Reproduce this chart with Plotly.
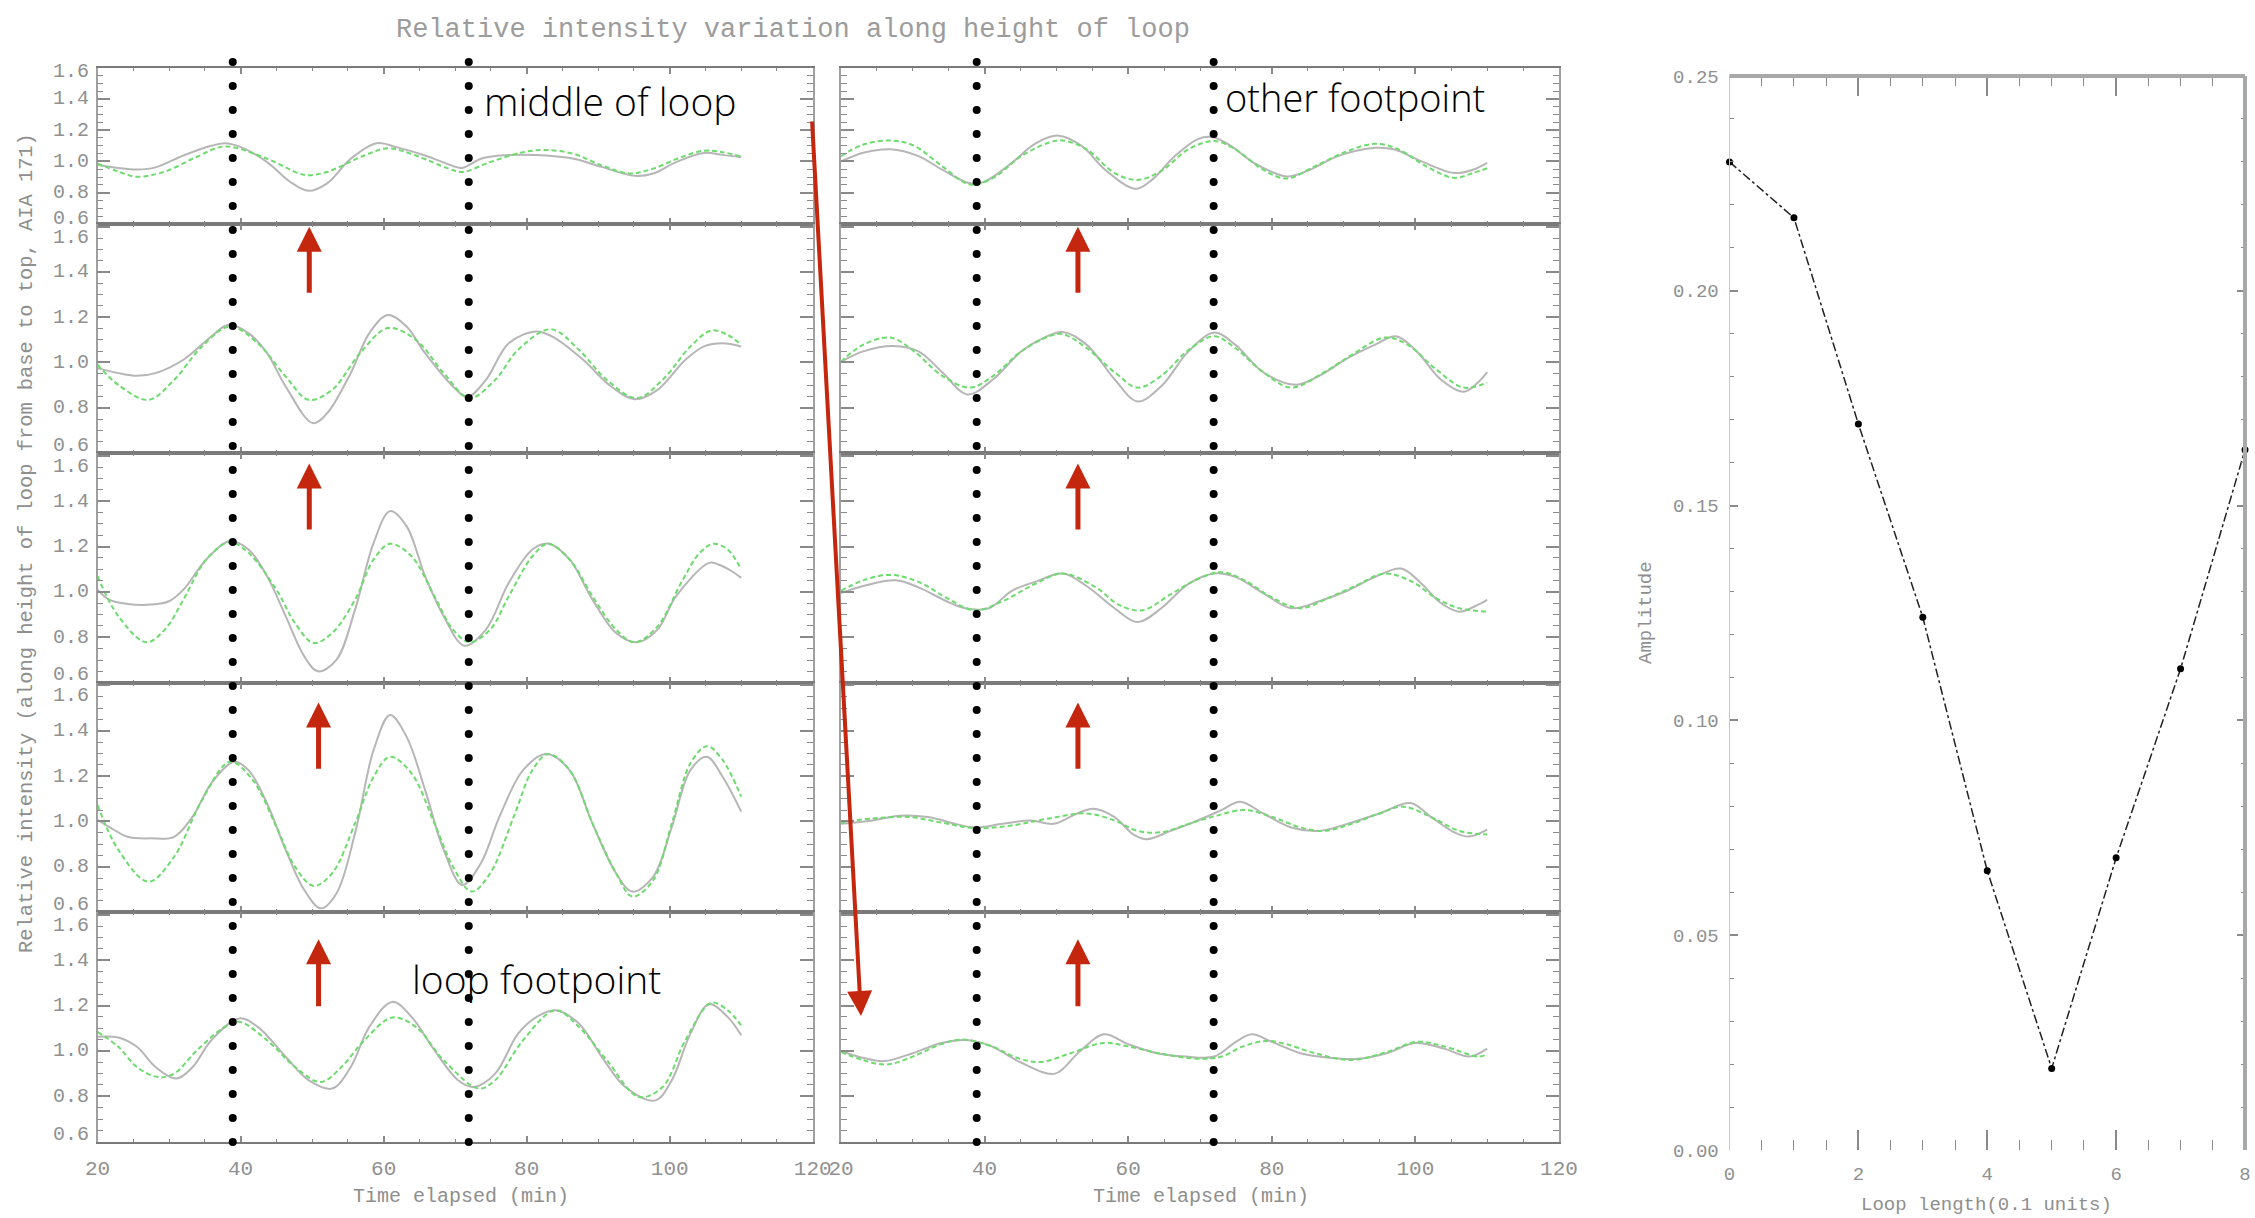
import numpy as np
import plotly.graph_objects as go

# ---------------------------------------------------------------------------
# Light curves, (time elapsed [min], relative intensity)
# Left column: middle of loop (top row) down to the loop footpoint (bottom row)
# ---------------------------------------------------------------------------
L1_gray = [(20.0, 0.979), (22.9, 0.958), (25.5, 0.948), (28.1, 0.962), (32.0, 1.038), (35.9, 1.100),
           (37.8, 1.117), (39.8, 1.096), (43.7, 0.996), (46.9, 0.870), (49.5, 0.812), (52.1, 0.860),
           (55.4, 1.017), (59.0, 1.117), (61.9, 1.090), (65.8, 1.038), (69.7, 0.971), (71.0, 0.958),
           (73.6, 1.017), (76.2, 1.038), (79.5, 1.042), (82.7, 1.038), (86.6, 1.017), (90.5, 0.965),
           (95.1, 0.908), (97.7, 0.923), (100.9, 0.996), (104.8, 1.054), (107.4, 1.042), (110.0, 1.027)]
L1_green = [(20.0, 0.985), (22.9, 0.935), (25.5, 0.902), (29.4, 0.935), (33.9, 1.030), (37.8, 1.096),
            (43.7, 1.017), (48.2, 0.923), (49.5, 0.912), (52.1, 0.933), (57.3, 1.038), (60.6, 1.084),
            (64.5, 1.038), (69.1, 0.954), (71.0, 0.933), (74.9, 0.996), (79.5, 1.059), (82.7, 1.073),
            (86.6, 1.048), (90.5, 0.975), (94.4, 0.923), (97.7, 0.954), (101.6, 1.027), (104.8, 1.069),
            (107.4, 1.059), (110.0, 1.031)]

L2_gray = [(20.0, 0.975), (22.9, 0.953), (25.5, 0.941), (28.1, 0.953), (32.0, 1.012), (35.9, 1.115),
           (38.2, 1.166), (41.1, 1.130), (43.7, 1.041), (46.3, 0.894), (50.1, 0.732), (52.1, 0.776),
           (55.4, 0.953), (58.0, 1.130), (60.6, 1.210), (63.2, 1.159), (65.8, 1.041), (69.7, 0.894),
           (71.7, 0.847), (74.3, 0.923), (77.5, 1.085), (81.4, 1.137), (84.0, 1.107), (87.9, 1.012),
           (91.8, 0.894), (95.1, 0.838), (98.3, 0.879), (102.2, 1.012), (104.8, 1.071), (107.4, 1.085),
           (110.0, 1.071)]
L2_green = [(20.0, 0.990), (22.9, 0.901), (27.1, 0.835), (30.7, 0.923), (34.6, 1.071), (38.5, 1.159),
            (42.4, 1.085), (46.3, 0.938), (49.5, 0.835), (52.8, 0.879), (56.7, 1.041), (60.6, 1.152),
            (64.5, 1.100), (68.4, 0.953), (72.0, 0.843), (75.6, 0.923), (78.8, 1.056), (83.4, 1.147),
            (87.3, 1.056), (91.2, 0.923), (95.4, 0.843), (99.0, 0.923), (102.9, 1.071), (105.8, 1.141),
            (108.1, 1.122), (110.0, 1.078)]

L3_gray = [(20.0, 1.010), (21.6, 0.966), (24.2, 0.947), (27.4, 0.944), (30.0, 0.959), (32.0, 1.010),
           (35.2, 1.143), (38.5, 1.224), (41.1, 1.187), (43.7, 1.069), (46.3, 0.893), (48.9, 0.716),
           (50.8, 0.650), (53.4, 0.701), (56.0, 0.922), (58.6, 1.216), (60.9, 1.356), (63.2, 1.290),
           (65.8, 1.069), (68.4, 0.893), (71.3, 0.763), (74.3, 0.834), (77.5, 1.040), (80.8, 1.187),
           (83.0, 1.213), (86.0, 1.143), (89.2, 0.966), (92.5, 0.819), (95.4, 0.778), (98.3, 0.834),
           (100.9, 0.981), (105.5, 1.128), (106.8, 1.121), (108.7, 1.091), (110.0, 1.062)]
L3_green = [(20.0, 1.069), (22.9, 0.893), (26.8, 0.778), (29.4, 0.834), (32.0, 0.966), (35.2, 1.143),
            (38.5, 1.219), (41.1, 1.172), (45.0, 1.010), (47.6, 0.863), (50.2, 0.775), (52.8, 0.819),
            (56.0, 0.966), (58.6, 1.143), (60.9, 1.212), (63.9, 1.157), (67.1, 0.981), (69.7, 0.834),
            (72.0, 0.779), (74.9, 0.834), (77.5, 0.981), (80.8, 1.157), (83.0, 1.212), (86.0, 1.143),
            (89.2, 0.981), (92.5, 0.834), (95.1, 0.778), (98.3, 0.848), (101.6, 1.040), (104.2, 1.172),
            (106.1, 1.212), (108.1, 1.187), (110.0, 1.099)]

L4_gray = [(20.0, 1.006), (21.6, 0.976), (24.2, 0.932), (27.4, 0.925), (30.7, 0.932), (33.3, 1.021),
           (35.9, 1.168), (39.1, 1.263), (41.1, 1.226), (43.7, 1.079), (46.3, 0.874), (48.9, 0.697),
           (51.2, 0.616), (53.4, 0.682), (56.0, 0.947), (58.6, 1.315), (60.9, 1.469), (63.2, 1.374),
           (65.8, 1.138), (68.4, 0.874), (71.0, 0.719), (73.6, 0.815), (76.2, 1.021), (79.5, 1.226),
           (82.7, 1.297), (86.0, 1.226), (89.2, 0.991), (92.5, 0.771), (94.8, 0.690), (97.7, 0.756),
           (100.3, 0.976), (102.9, 1.226), (105.2, 1.285), (107.4, 1.197), (110.0, 1.043)]
L4_green = [(20.0, 1.072), (22.9, 0.874), (27.1, 0.734), (30.7, 0.844), (34.6, 1.094), (38.5, 1.263),
            (41.7, 1.182), (45.0, 0.976), (47.6, 0.800), (50.2, 0.715), (52.8, 0.771), (56.0, 0.991),
            (58.6, 1.197), (60.9, 1.285), (63.9, 1.212), (67.1, 0.991), (69.7, 0.800), (72.3, 0.690),
            (74.9, 0.771), (78.2, 1.021), (80.8, 1.226), (83.0, 1.297), (86.0, 1.226), (89.2, 0.991),
            (92.5, 0.771), (94.8, 0.668), (97.7, 0.741), (100.3, 0.991), (102.9, 1.256), (105.2, 1.332),
            (107.4, 1.271), (110.0, 1.109)]

L5_gray = [(20.0, 1.062), (22.9, 1.059), (25.5, 1.018), (28.1, 0.929), (31.0, 0.878), (33.3, 0.929),
           (35.9, 1.047), (39.8, 1.143), (42.4, 1.106), (46.3, 0.974), (49.5, 0.871), (52.8, 0.834),
           (55.4, 0.929), (58.0, 1.106), (61.2, 1.216), (63.9, 1.150), (67.1, 1.003), (70.4, 0.871),
           (72.6, 0.841), (75.6, 0.900), (78.8, 1.076), (81.4, 1.150), (84.0, 1.179), (87.3, 1.121),
           (90.5, 0.974), (93.8, 0.841), (98.0, 0.782), (100.3, 0.871), (102.9, 1.076), (105.5, 1.206),
           (108.1, 1.150), (110.0, 1.069)]
L5_green = [(20.0, 1.084), (22.9, 1.018), (25.5, 0.929), (28.4, 0.885), (30.7, 0.900), (33.9, 1.003),
            (37.8, 1.106), (39.8, 1.128), (43.7, 1.047), (47.6, 0.929), (51.2, 0.863), (54.1, 0.929),
            (57.3, 1.047), (61.2, 1.147), (64.5, 1.106), (68.4, 0.959), (73.3, 0.834), (75.6, 0.871),
            (79.5, 1.047), (84.0, 1.179), (87.3, 1.106), (91.2, 0.959), (95.7, 0.797), (99.0, 0.841),
            (102.2, 1.047), (105.8, 1.212), (108.1, 1.179), (110.0, 1.113)]

# Right column: towards the other footpoint (top row)
R1_gray = [(20.0, 1.000), (23.1, 1.056), (26.9, 1.078), (30.8, 1.034), (34.1, 0.947), (38.0, 0.860),
           (39.9, 0.869), (43.8, 0.991), (47.0, 1.113), (50.3, 1.165), (53.5, 1.100), (56.8, 0.947),
           (61.0, 0.825), (63.3, 0.882), (66.5, 1.034), (69.7, 1.143), (71.7, 1.156), (74.3, 1.100),
           (77.5, 0.991), (82.1, 0.904), (85.3, 0.947), (89.2, 1.034), (94.4, 1.087), (97.0, 1.078),
           (100.9, 1.000), (105.4, 0.926), (108.0, 0.947), (110.0, 0.991)]
R1_green = [(20.0, 1.034), (23.1, 1.108), (26.9, 1.134), (30.2, 1.100), (34.1, 0.969), (38.0, 0.852),
            (41.2, 0.895), (45.1, 1.034), (49.0, 1.121), (50.9, 1.134), (54.2, 1.078), (58.1, 0.926),
            (61.3, 0.882), (64.6, 0.939), (68.4, 1.078), (72.0, 1.130), (74.9, 1.078), (78.8, 0.947),
            (82.1, 0.891), (86.0, 0.969), (90.5, 1.065), (94.4, 1.113), (97.6, 1.078), (101.5, 0.969),
            (105.4, 0.895), (108.0, 0.926), (110.0, 0.956)]

R2_gray = [(20.0, 1.003), (23.1, 1.049), (27.3, 1.073), (30.8, 1.049), (34.1, 0.957), (37.6, 0.859),
           (41.2, 0.926), (45.1, 1.049), (48.3, 1.110), (50.9, 1.135), (54.2, 1.079), (58.1, 0.926),
           (61.3, 0.828), (64.6, 0.895), (68.4, 1.049), (72.0, 1.132), (74.9, 1.079), (78.8, 0.957),
           (83.4, 0.902), (86.6, 0.941), (90.5, 1.018), (94.4, 1.079), (97.3, 1.116), (100.2, 1.049),
           (103.5, 0.926), (106.7, 0.871), (108.7, 0.911), (110.0, 0.957)]
R2_green = [(20.0, 1.003), (23.1, 1.079), (26.9, 1.110), (30.2, 1.049), (34.1, 0.941), (38.0, 0.889),
            (41.2, 0.941), (45.1, 1.049), (49.0, 1.116), (50.9, 1.125), (54.2, 1.064), (58.1, 0.957),
            (61.3, 0.889), (64.6, 0.941), (68.4, 1.055), (72.0, 1.116), (74.9, 1.064), (78.8, 0.957),
            (82.7, 0.889), (87.3, 0.957), (91.1, 1.033), (95.7, 1.110), (98.9, 1.079), (102.8, 0.972),
            (106.7, 0.889), (110.0, 0.911)]

R3_gray = [(20.0, 0.995), (23.1, 1.026), (27.6, 1.051), (30.8, 1.020), (34.7, 0.959), (37.3, 0.928),
           (40.6, 0.928), (43.8, 1.005), (47.0, 1.044), (50.9, 1.081), (54.2, 1.026), (58.1, 0.928),
           (61.3, 0.867), (64.6, 0.928), (68.4, 1.035), (72.0, 1.081), (74.9, 1.066), (78.8, 0.995),
           (82.7, 0.928), (86.6, 0.959), (90.5, 1.005), (94.4, 1.066), (98.0, 1.103), (100.9, 1.035),
           (103.5, 0.952), (106.1, 0.913), (108.7, 0.943), (110.0, 0.965)]
R3_green = [(20.0, 1.005), (23.1, 1.051), (26.9, 1.075), (30.8, 1.044), (34.7, 0.974), (38.6, 0.919),
            (42.5, 0.959), (47.0, 1.035), (50.9, 1.081), (55.5, 1.020), (58.7, 0.943), (62.0, 0.919),
            (65.9, 0.989), (69.7, 1.057), (73.0, 1.087), (76.2, 1.051), (80.1, 0.974), (84.0, 0.928),
            (87.9, 0.974), (91.8, 1.029), (95.7, 1.081), (99.6, 1.044), (102.8, 0.974), (106.1, 0.928),
            (110.0, 0.913)]

R4_gray = [(20.0, 0.989), (24.4, 1.004), (28.2, 1.025), (32.1, 1.019), (35.9, 0.989), (38.6, 0.973),
           (42.5, 0.989), (46.4, 1.004), (49.6, 0.989), (52.9, 1.035), (55.2, 1.056), (58.1, 1.019),
           (60.7, 0.943), (62.6, 0.921), (65.9, 0.958), (69.7, 1.004), (73.0, 1.050), (75.6, 1.087),
           (78.8, 1.035), (82.7, 0.973), (86.6, 0.958), (90.5, 0.989), (95.0, 1.035), (99.3, 1.081),
           (102.2, 1.019), (105.4, 0.952), (107.4, 0.933), (110.0, 0.964)]
R4_green = [(20.0, 0.994), (24.4, 1.013), (29.5, 1.019), (34.1, 0.994), (38.6, 0.970), (43.8, 0.982),
            (49.0, 1.013), (54.2, 1.035), (58.1, 1.004), (61.3, 0.958), (64.6, 0.952), (68.4, 0.989),
            (72.3, 1.025), (76.2, 1.050), (80.1, 1.019), (84.0, 0.973), (87.3, 0.958), (91.1, 0.989),
            (95.0, 1.035), (98.3, 1.065), (102.2, 1.019), (106.1, 0.958), (110.0, 0.942)]

R5_gray = [(20.0, 1.000), (23.0, 0.970), (26.0, 0.955), (30.0, 0.990), (34.0, 1.035), (37.5, 1.048),
           (41.0, 1.020), (45.0, 0.950), (49.8, 0.900), (53.0, 0.990), (56.6, 1.073), (60.0, 1.030),
           (64.0, 0.990), (68.0, 0.975), (72.0, 0.975), (75.0, 1.040), (77.2, 1.073), (80.0, 1.040),
           (84.0, 0.990), (88.0, 0.970), (92.0, 0.965), (96.0, 0.990), (100.0, 1.035), (104.0, 1.010),
           (107.5, 0.975), (110.0, 1.010)]
R5_green = [(20.0, 0.995), (23.0, 0.960), (26.4, 0.940), (30.0, 0.975), (34.0, 1.030), (37.0, 1.050),
            (41.0, 1.020), (44.5, 0.970), (47.7, 0.951), (52.0, 0.990), (56.5, 1.035), (60.0, 1.020),
            (65.0, 0.985), (70.0, 0.965), (73.0, 0.975), (76.0, 1.020), (79.2, 1.044), (82.0, 1.030),
            (86.0, 0.990), (91.0, 0.960), (96.0, 0.995), (100.2, 1.040), (104.0, 1.020), (108.8, 0.975),
            (110.0, 0.985)]

# Oscillation amplitude along the loop
loop_length = [0, 1, 2, 3, 4, 5, 6, 7, 8]
amplitude = [0.230, 0.217, 0.169, 0.124, 0.065, 0.019, 0.068, 0.112, 0.163]

# Reference times (dotted guides) and the arrows marking the trough near 50 min
guide_times = [38.9, 71.9]
arrow_time_left = [49.6, 49.6, 50.9, 50.9]
arrow_time_right = [53.0, 53.0, 53.0, 53.0]
arrow_tip = [1.600, 1.566, 1.525, 1.492]
arrow_tail = [1.302, 1.268, 1.226, 1.190]
y_tick_values = [0.6, 0.8, 1.0, 1.2, 1.4, 1.6]

# ---------------------------------------------------------------------------
W, H = 2255, 1218


def fx(px):
    return px / W


def fy(px):
    return 1 - px / H


def key(kind, n):
    return f"{kind}axis" + ("" if n == 1 else str(n))


def ref(kind, n):
    return kind + ("" if n == 1 else str(n))


AX_LINE = "#7a7a7a"
Y_LINE = "#a0a0a0"
TICK_C = "#8a8a8a"
LABEL_C = "#909090"
MONO = "Liberation Mono"
GRAY_C = "#b6b6b6"
GREEN_C = "#6ddb6d"
RED = "#c4260e"
LABEL_FONT = dict(family=MONO, size=20, color=LABEL_C)

COL_X = [(97.6, 812.7), (841.0, 1559.0)]
ROW_Y = [(67.6, 224.0), (224.0, 453.0), (453.0, 682.7), (682.7, 912.0), (912.0, 1141.7)]
ROW_RANGE = [[0.6, 1.6]] + [[0.6, 1.612]] * 4
# small vertical nudges of the end labels so that neighbouring panels do not collide
END_SHIFT = [(6.0, -4.1)] + [(7.7, -10.3)] * 4

columns = [
    [(L1_gray, L1_green), (L2_gray, L2_green), (L3_gray, L3_green), (L4_gray, L4_green), (L5_gray, L5_green)],
    [(R1_gray, R1_green), (R2_gray, R2_green), (R3_gray, R3_green), (R4_gray, R4_green), (R5_gray, R5_green)],
]

fig = go.Figure()
layout = {}
annotations = []
shapes = []

for c in range(2):
    xdom = [fx(COL_X[c][0]), fx(COL_X[c][1])]
    for p in range(5):
        n = c * 5 + p + 1
        ydom = [fy(ROW_Y[p][1]), fy(ROW_Y[p][0])]
        bottom = p == 4
        layout[key("x", n)] = dict(
            domain=xdom, anchor=ref("y", n), range=[20, 120], autorange=False,
            showline=True, linecolor=AX_LINE, linewidth=2, mirror="ticks",
            ticks="inside", ticklen=6, tickwidth=1.5, tickcolor=TICK_C,
            tick0=20, dtick=20,
            minor=dict(ticks="inside", ticklen=3, tickwidth=1.2, tickcolor=TICK_C, tick0=20, dtick=5),
            showgrid=False, zeroline=False, showticklabels=bottom,
            tickfont=dict(family=MONO, size=21, color=LABEL_C), ticklabelstandoff=6,
        )
        layout[key("y", n)] = dict(
            domain=ydom, anchor=ref("x", n), range=ROW_RANGE[p], autorange=False,
            showline=True, linecolor=Y_LINE, linewidth=1.5, mirror="ticks",
            ticks="inside", ticklen=13, tickwidth=1.5, tickcolor=TICK_C,
            tick0=0.6, dtick=0.2,
            minor=dict(ticks="inside", ticklen=6, tickwidth=1.2, tickcolor=TICK_C, tick0=0.6, dtick=0.05),
            showgrid=False, zeroline=False, showticklabels=False,
        )
        gray, green = columns[c][p]
        fig.add_trace(go.Scatter(
            x=[t for t, _ in gray], y=[v for _, v in gray], mode="lines",
            line=dict(color=GRAY_C, width=2, shape="spline", smoothing=1.0),
            xaxis=ref("x", n), yaxis=ref("y", n), hoverinfo="skip"))
        fig.add_trace(go.Scatter(
            x=[t for t, _ in green], y=[v for _, v in green], mode="lines",
            line=dict(color=GREEN_C, width=2, dash="5px,3px", shape="spline", smoothing=1.0),
            xaxis=ref("x", n), yaxis=ref("y", n), hoverinfo="skip"))

        # y tick labels of the left column
        if c == 0:
            for v in y_tick_values:
                shift = END_SHIFT[p][0] if v == y_tick_values[0] else (
                    END_SHIFT[p][1] if v == y_tick_values[-1] else 0)
                annotations.append(dict(
                    text=f"{v:.1f}", x=fx(COL_X[0][0] - 7), y=v, xref="paper", yref=ref("y", n),
                    xanchor="right", yanchor="middle", yshift=shift, showarrow=False,
                    font=LABEL_FONT))

        # red arrows marking the trough
        if p >= 1:
            t = (arrow_time_left if c == 0 else arrow_time_right)[p - 1]
            annotations.append(dict(
                x=t, y=arrow_tip[p - 1], ax=t, ay=arrow_tail[p - 1],
                xref=ref("x", n), yref=ref("y", n), axref=ref("x", n), ayref=ref("y", n),
                text="", showarrow=True, arrowhead=2, arrowsize=1, arrowwidth=5,
                arrowcolor=RED, standoff=0))

# dotted guide lines running through each column
dot_pos = np.linspace(0, 1, 46)
for c, n in ((0, 16), (1, 17)):
    layout[key("x", n)] = dict(domain=[fx(COL_X[c][0]), fx(COL_X[c][1])], range=[20, 120],
                              anchor=ref("y", n), visible=False)
    layout[key("y", n)] = dict(domain=[fy(1142), fy(62)], range=[0, 1],
                              anchor=ref("x", n), visible=False)
    for t in guide_times:
        fig.add_trace(go.Scatter(
            x=[t] * len(dot_pos), y=dot_pos, mode="markers",
            marker=dict(size=8, color="black"), cliponaxis=False,
            xaxis=ref("x", n), yaxis=ref("y", n), hoverinfo="skip"))

# amplitude against loop length
AMP_X = [fx(1729.5), fx(2245.0)]
AMP_Y = [fy(1150.0), fy(76.0)]
AMP_FONT = dict(family=MONO, size=19, color=LABEL_C)
layout["xaxis18"] = dict(
    domain=AMP_X, anchor="y18", range=[0, 8], autorange=False, showline=False, mirror="ticks",
    ticks="inside", ticklen=20, tickwidth=1.5, tickcolor=TICK_C, tick0=0, dtick=2,
    minor=dict(ticks="inside", ticklen=10, tickwidth=1.2, tickcolor=TICK_C, tick0=0, dtick=0.5),
    showgrid=False, zeroline=False, tickfont=AMP_FONT, ticklabelstandoff=10)
layout["yaxis18"] = dict(
    domain=AMP_Y, anchor="x18", range=[0, 0.25], autorange=False,
    showline=True, linecolor="#c8c8c8", linewidth=1, mirror="ticks",
    ticks="inside", ticklen=8, tickwidth=1.5, tickcolor=TICK_C, tick0=0, dtick=0.05,
    tickformat=".2f",
    minor=dict(ticks="inside", ticklen=4, tickwidth=1.2, tickcolor=TICK_C, tick0=0, dtick=0.01),
    showgrid=False, zeroline=False, tickfont=AMP_FONT, ticklabelstandoff=6)

# heavier frame on the top and right sides of the amplitude panel
shapes += [
    dict(type="line", xref="x18 domain", yref="y18 domain", x0=0, x1=1, y0=1, y1=1,
         line=dict(color="#a8a8a8", width=4)),
    dict(type="line", xref="x18 domain", yref="y18 domain", x0=1, x1=1, y0=0, y1=1,
         line=dict(color="#a8a8a8", width=4)),
]

fig.add_trace(go.Scatter(
    x=loop_length, y=amplitude, mode="lines+markers",
    line=dict(color="#222222", width=1.5, dash="dashdot"),
    marker=dict(size=7, color="black"), cliponaxis=False,
    xaxis="x18", yaxis="y18", hoverinfo="skip"))

# text
GRAY_TXT = "#8e8e8e"
LABEL_SANS = dict(family="Open Sans", size=39, color="black", weight=300)
annotations += [
    dict(text="Relative intensity variation along height of loop", x=fx(793), y=fy(30),
         xref="paper", yref="paper", showarrow=False, xanchor="center", yanchor="middle",
         font=dict(family=MONO, size=27, color="#9c9c9c")),
    dict(text="Relative intensity (along height of loop from base to top, AIA 171)",
         x=fx(26), y=fy(543), xref="paper", yref="paper", showarrow=False, textangle=-90,
         xanchor="center", yanchor="middle", font=dict(family=MONO, size=20.4, color=GRAY_TXT)),
    dict(text="Time elapsed (min)", x=fx(460.5), y=fy(1196), xref="paper", yref="paper",
         showarrow=False, xanchor="center", yanchor="middle",
         font=dict(family=MONO, size=20, color=GRAY_TXT)),
    dict(text="Time elapsed (min)", x=fx(1200.5), y=fy(1196), xref="paper", yref="paper",
         showarrow=False, xanchor="center", yanchor="middle",
         font=dict(family=MONO, size=20, color=GRAY_TXT)),
    dict(text="Amplitude", x=fx(1646), y=fy(613), xref="paper", yref="paper", showarrow=False,
         textangle=-90, xanchor="center", yanchor="middle",
         font=dict(family=MONO, size=19, color=GRAY_TXT)),
    dict(text="Loop length(0.1 units)", x=fx(1986), y=fy(1205), xref="paper", yref="paper",
         showarrow=False, xanchor="center", yanchor="middle",
         font=dict(family=MONO, size=19, color=GRAY_TXT)),
    dict(text="middle of loop", x=fx(482), y=fy(100), xref="paper", yref="paper",
         showarrow=False, xanchor="left", yanchor="middle", font=LABEL_SANS),
    dict(text="other footpoint", x=fx(1223), y=fy(97), xref="paper", yref="paper",
         showarrow=False, xanchor="left", yanchor="middle",
         font=dict(family="Open Sans", size=38, color="black", weight=300)),
    dict(text="loop footpoint", x=fx(410), y=fy(978), xref="paper", yref="paper",
         showarrow=False, xanchor="left", yanchor="middle", font=LABEL_SANS),
    # long arrow from the middle of the loop towards the other footpoint
    dict(x=fx(861), y=fy(1016), xref="paper", yref="paper", ax=812 - 861, ay=120 - 1016,
         text="", showarrow=True, arrowhead=2, arrowsize=1.25, arrowwidth=4,
         arrowcolor=RED, standoff=0),
]

fig.update_layout(
    width=W, height=H, autosize=False,
    margin=dict(l=0, r=0, t=0, b=0, pad=0, autoexpand=False),
    paper_bgcolor="white", plot_bgcolor="rgba(0,0,0,0)", showlegend=False,
    annotations=annotations, shapes=shapes, **layout)

fig.write_html("out.html", config={"responsive": False},
               post_script="document.body.style.margin='0px';")
